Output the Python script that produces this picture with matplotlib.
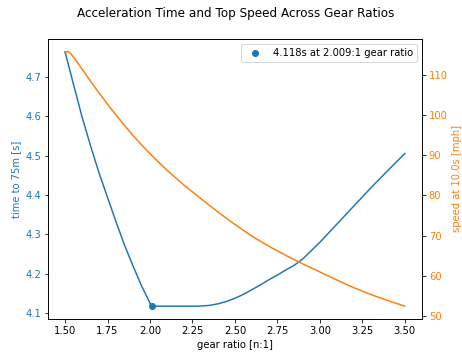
import matplotlib
matplotlib.use("Agg")
import matplotlib.pyplot as plt
import numpy as np

# time to 75m vs gear ratio
ratio_t = np.array([1.50, 1.55, 1.60, 1.65, 1.70, 1.75, 1.80, 1.85, 1.90, 1.95, 2.009,
                    2.10, 2.20, 2.28, 2.35, 2.40, 2.45, 2.50, 2.55, 2.60, 2.65, 2.70,
                    2.75, 2.80, 2.85, 2.90, 3.00, 3.10, 3.20, 3.30, 3.40, 3.50])
time_75m = np.array([4.763, 4.680, 4.598, 4.525, 4.456, 4.394, 4.332, 4.273, 4.220, 4.170, 4.118,
                     4.118, 4.118, 4.118, 4.120, 4.124, 4.130, 4.138, 4.148, 4.160, 4.172, 4.185,
                     4.197, 4.210, 4.222, 4.238, 4.280, 4.326, 4.372, 4.418, 4.462, 4.505])

# speed at 10s vs gear ratio
ratio_v = np.array([1.50, 1.51, 1.52, 1.53, 1.55, 1.575, 1.60, 1.65, 1.70, 1.75, 1.80, 1.85,
                    1.90, 1.95, 2.00, 2.05, 2.10, 2.20, 2.30, 2.40, 2.50, 2.60, 2.70, 2.80,
                    2.90, 3.00, 3.10, 3.20, 3.30, 3.40, 3.50])
speed_10s = np.array([115.4, 115.7, 115.7, 115.4, 114.4, 112.9, 111.4, 108.4, 105.5, 102.7, 100.0, 97.4,
                      94.9, 92.6, 90.4, 88.3, 86.3, 82.6, 79.2, 75.9, 72.8, 69.9, 67.4, 65.1,
                      63.0, 61.0, 59.0, 57.1, 55.4, 53.9, 52.5])

best_ratio = 2.009
best_time = 4.118

fig, ax1 = plt.subplots(figsize=(462/72, 352/72), dpi=72)
fig.subplots_adjust(left=0.104, right=0.913, top=0.889, bottom=0.094)

ax1.plot(ratio_t, time_75m, color='tab:blue')
ax1.plot([best_ratio], [best_time], 'o', color='tab:blue',
         label=f"{best_time:.3f}s at {best_ratio:.3f}:1 gear ratio")
ax1.set_xlabel("gear ratio [n:1]")
ax1.set_ylabel("time to 75m [s]", color='tab:blue')
ax1.tick_params(axis='y', labelcolor='tab:blue')
ax1.legend(loc='upper right')

ax2 = ax1.twinx()
ax2.plot(ratio_v, speed_10s, color='tab:orange')
ax2.set_ylabel("speed at 10.0s [mph]", color='tab:orange')
ax2.tick_params(axis='y', labelcolor='tab:orange')

fig.suptitle("Acceleration Time and Top Speed Across Gear Ratios", x=0.51)

fig.savefig("out.png", dpi=72)
